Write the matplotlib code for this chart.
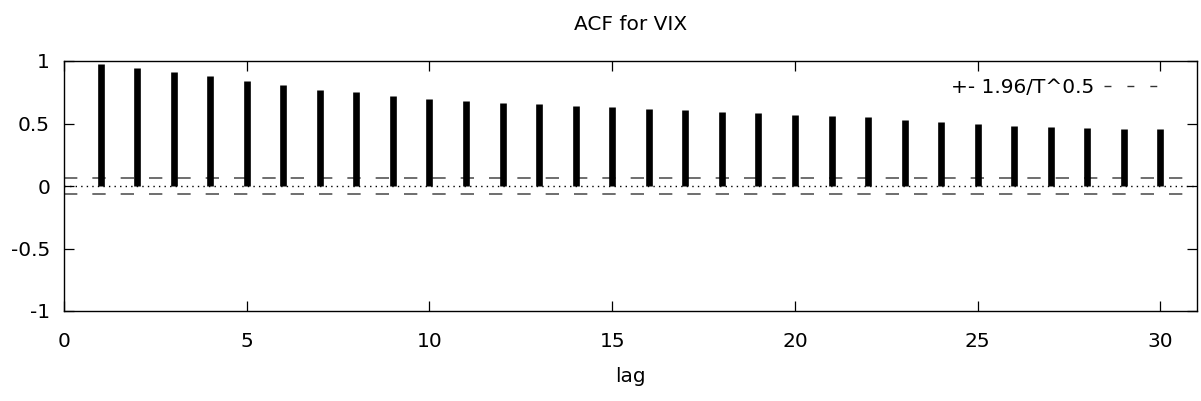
import matplotlib
matplotlib.use('Agg')
import matplotlib.pyplot as plt
from matplotlib.lines import Line2D

# ACF values
lags = list(range(1, 31))
acf = [0.980, 0.942, 0.916, 0.881, 0.843, 0.806, 0.771, 0.750, 0.723, 0.696,
       0.677, 0.667, 0.659, 0.643, 0.632, 0.613, 0.605, 0.594, 0.586, 0.570,
       0.557, 0.549, 0.530, 0.511, 0.495, 0.484, 0.474, 0.466, 0.458, 0.458]
band = 0.061  # 1.96/T^0.5
x_ticks = [0, 5, 10, 15, 20, 25, 30]
y_ticks = [-1, -0.5, 0, 0.5, 1]
y_labels = ["-1", "-0.5", "0", "0.5", "1"]

plt.rcParams['font.family'] = ['DejaVu Sans']
FS = 14.5

fig = plt.figure(figsize=(12.01, 4.01), dpi=100)
ax = fig.add_axes([64 / 1201, 90 / 401, 1133 / 1201, 250 / 401])

ax.vlines(lags, 0, acf, colors='black', linewidth=4.8)
ax.axhline(0, color='black', linewidth=1.0, linestyle=(0, (1, 3)), zorder=0)
ax.axhline(band, color='#555555', linewidth=1.2, linestyle=(0, (8, 9)), zorder=0)
ax.axhline(-band, color='#555555', linewidth=1.2, linestyle=(0, (8, 9)), zorder=0)

ax.set_xlim(0, 31)
ax.set_ylim(-1, 1)
ax.set_xticks(x_ticks)
ax.set_yticks(y_ticks)
ax.set_yticklabels(y_labels)
ax.tick_params(direction='in', length=7, width=0.9, top=True, right=True,
               labelsize=FS)
ax.tick_params(axis='x', pad=15)
ax.tick_params(axis='y', pad=10)
for s in ax.spines.values():
    s.set_linewidth(1.0)

ax.set_title("ACF for VIX", fontsize=FS, pad=22)
ax.set_xlabel("lag", fontsize=FS, labelpad=12)

handle = Line2D([], [], color='#333333', linewidth=1.0, linestyle=(0, (5, 11.5)))
ax.legend([handle], ["+- 1.96/T^0.5"], loc='upper right', frameon=False,
          markerfirst=False, fontsize=FS, handlelength=2.9, handletextpad=0.5,
          bbox_to_anchor=(0.98, 0.98), borderaxespad=0.2)

fig.savefig("out.png", dpi=100)
